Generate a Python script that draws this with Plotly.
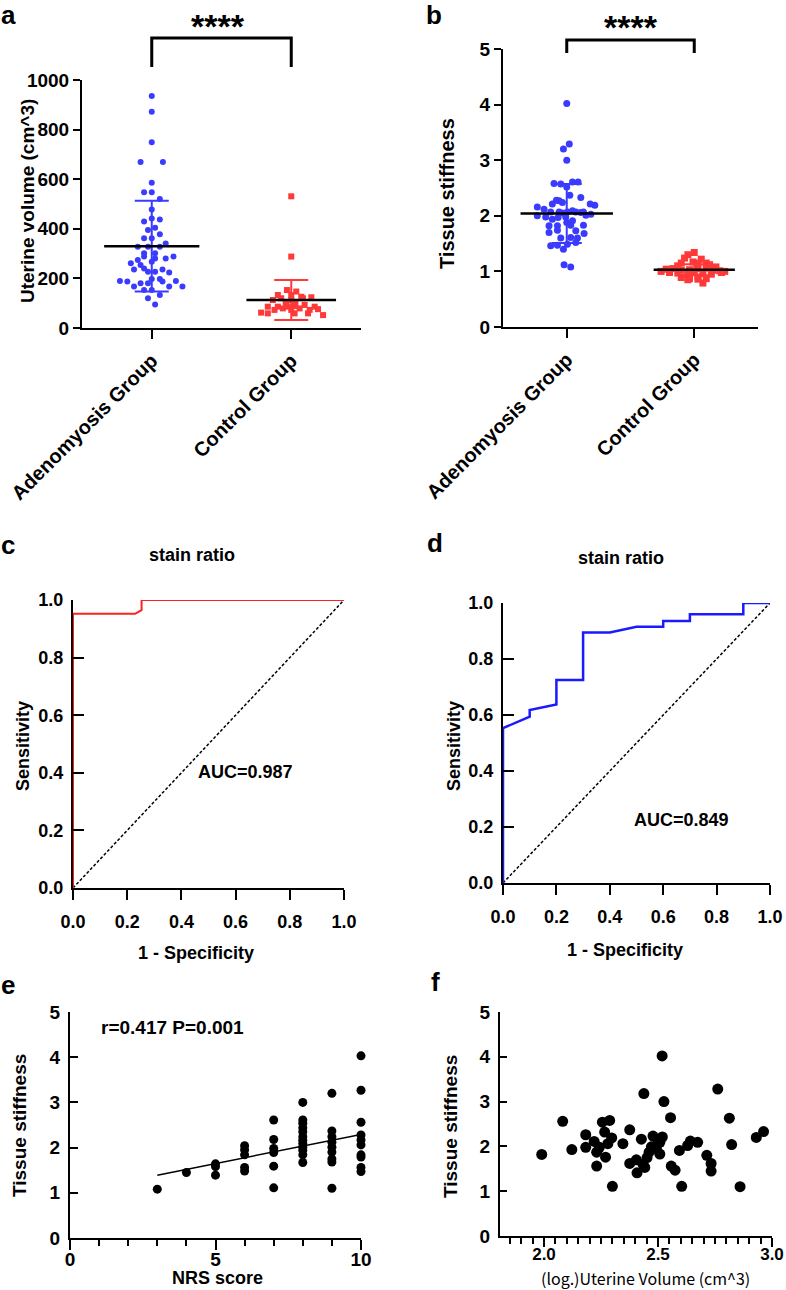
import plotly.graph_objects as go

W, H = 786, 1290

# ---------------- data ----------------
groups = ["Adenomyosis Group", "Control Group"]

vol_adeno = [935, 872, 749, 669, 669, 586, 547, 547, 520, 478, 429, 442, 438, 395, 404, 378,
             362, 362, 328, 328, 328, 341, 301, 301, 274, 288, 280, 280, 288, 261, 254, 267,
             236, 240, 236, 227, 227, 224, 198, 198, 190, 187, 180, 180, 187, 190, 167, 167,
             167, 153, 153, 133, 120, 95]
vol_adeno_jit = [0, 0, 0, -0.08, 0.08, 0, -0.055, 0, 0.058, 0, -0.055, 0, 0.058, -0.027, 0.024, 0.058,
                 -0.055, 0, -0.10, -0.027, 0.058, 0.10, -0.055, 0.024, -0.10, -0.055, 0.024, 0.10, 0.156, -0.15, -0.08, 0,
                 -0.127, -0.055, 0.077, -0.027, 0.024, 0.125, 0, 0.058, -0.228, -0.175, -0.08, -0.027, 0.077, 0.173, -0.127, 0.22,
                 0.125, -0.055, 0, 0.058, -0.027, 0.024]
vol_ctrl = [531, 288, 153, 147, 133, 133, 126, 113, 120, 113, 120, 124, 86, 86, 93, 89, 93, 86,
            73, 79, 73, 79, 73, 76, 62, 59, 59, 59, 52, 86, 100, 105]
vol_ctrl_jit = [0, 0, -0.031, 0.036, -0.096, 0, 0.072, -0.132, -0.072, 0, 0.084, 0.144, -0.168, -0.096, -0.036, 0.024, 0.096, 0.168,
                -0.12, -0.06, 0, 0.06, 0.132, 0.192, -0.216, -0.168, 0.024, 0.12, 0.228, -0.024, 0.03, -0.04]
vol_mean = [330, 113]
vol_sd = [183, 81]

stiff_adeno = [4.02, 3.29, 3.20, 3.00, 2.58, 2.57, 2.52, 2.61, 2.61, 2.37, 2.33, 2.28, 2.24, 2.21, 2.27,
               2.16, 2.12, 2.21, 2.19, 2.07, 2.07, 2.07, 2.07, 2.07, 2.09, 2.05, 2.06, 2.00, 1.98, 1.97,
               1.98, 2.01, 2.03, 1.88, 1.91, 1.94, 1.82, 1.82, 1.83, 1.83, 1.70, 1.74, 1.73, 1.68, 1.61,
               1.60, 1.60, 1.47, 1.49, 1.52, 1.46, 1.40, 1.12, 1.08]
stiff_adeno_jit = [0, 0.02, -0.026, 0, -0.1, -0.047, 0, 0.045, 0.089, 0.024, 0.11, -0.081, -0.034, -0.113, -0.06,
                   -0.231, -0.178, 0.184, 0.22, -0.126, -0.06, 0.005, 0.071, 0.131, 0.045, -0.034, 0.11, -0.231, -0.165, -0.068,
                   -0.008, 0.15, 0.189, 0.0, 0.045, -0.113, -0.139, -0.073, 0.031, 0.131, -0.139, -0.073, 0.071, 0.136, 0.031,
                   -0.047, 0.084, -0.073, 0.005, 0.071, -0.126, -0.026, -0.021, 0.031]
stiff_ctrl = [1.34, 1.30, 1.22, 1.24, 1.17, 1.15, 1.15, 1.15, 1.04, 1.05, 1.02, 1.03, 1.05, 1.06, 1.02,
              1.01, 1.00, 0.98, 0.97, 0.96, 0.98, 0.96, 0.95, 0.98, 0.89, 0.87, 0.90, 0.87, 0.85, 0.86,
              0.79, 1.10, 1.08, 1.12, 1.00]
stiff_ctrl_jit = [0, -0.05, 0.055, -0.076, -0.01, 0.029, -0.102, 0.094, -0.22, -0.168, -0.102, -0.037, 0.029, 0.094, 0.147,
                  0.2, 0.239, -0.194, -0.129, -0.05, 0.0, 0.068, 0.134, 0.213, -0.102, -0.037, 0.029, 0.094, -0.05, 0.029,
                  0.068, -0.13, 0.17, 0.12, -0.26]
stiff_mean = [2.04, 1.03]
stiff_sd = [0.53, 0.10]

roc_c_fpr = [0, 0, 0.229, 0.253, 0.253, 1.0]
roc_c_tpr = [0, 0.952, 0.952, 0.965, 1.0, 1.0]
auc_c = 0.987

roc_d_fpr = [0, 0, 0.1, 0.1, 0.2, 0.2, 0.3, 0.3, 0.4, 0.5, 0.6, 0.6, 0.7, 0.7, 0.9, 0.9, 1.0]
roc_d_tpr = [0, 0.553, 0.594, 0.618, 0.638, 0.725, 0.725, 0.895, 0.895, 0.915, 0.915, 0.936, 0.936, 0.96, 0.96, 1.0, 1.0]
auc_d = 0.849

nrs = [3, 4, 5, 5, 5, 6, 6, 6, 6, 6, 7, 7, 7, 7, 7, 7,
       8, 8, 8, 8, 8, 8, 8, 8, 8, 8, 8, 8, 9, 9, 9, 9, 9, 9, 9, 9, 9,
       10, 10, 10, 10, 10, 10, 10, 10, 10, 10]
nrs_stiff = [1.08, 1.45, 1.64, 1.58, 1.39, 2.04, 1.95, 1.84, 1.56, 1.48, 2.61, 2.18, 1.98, 1.89, 1.59, 1.11,
             3.0, 2.61, 2.54, 2.44, 2.35, 2.24, 2.16, 2.09, 2.01, 1.94, 1.84, 1.67, 3.20, 2.37, 2.24, 2.12, 2.01, 1.90, 1.75, 1.68, 1.10,
             4.03, 3.27, 2.56, 2.28, 2.17, 2.06, 1.84, 1.79, 1.56, 1.47]
fit_x = [3, 10]
fit_y = [1.39, 2.29]
r_val, p_val = 0.417, 0.001

logvol = [1.99, 2.082, 2.122, 2.183, 2.183, 2.22, 2.231, 2.231, 2.256, 2.266, 2.27, 2.288, 2.28, 2.297, 2.30,
          2.243, 2.346, 2.376, 2.376, 2.405, 2.408, 2.427, 2.438, 2.434, 2.442, 2.452, 2.461, 2.471, 2.478, 2.493,
          2.50, 2.508, 2.518, 2.519, 2.526, 2.508, 2.555, 2.558, 2.575, 2.594, 2.604, 2.63, 2.642, 2.674, 2.714,
          2.733, 2.733, 2.762, 2.813, 2.823, 2.86, 2.931, 2.963]
logvol_stiff = [1.82, 2.56, 1.93, 2.26, 1.98, 2.11, 1.56, 1.87, 2.54, 2.32, 1.76, 2.58, 2.06, 2.19, 1.11,
                1.98, 2.06, 2.37, 1.62, 1.70, 1.41, 2.16, 3.18, 1.60, 1.53, 1.75, 1.87, 1.99, 2.23, 1.95,
                2.15, 1.83, 4.02, 2.21, 3.00, 2.09, 2.64, 1.56, 1.47, 1.91, 1.11, 2.02, 2.12, 2.09, 1.80,
                1.62, 1.45, 3.28, 2.63, 2.04, 1.10, 2.20, 2.33]

# ---------------- style ----------------
BLUE = "#3B3BFF"
RED = "#FF3838"
FONT = "Liberation Sans, Arial, sans-serif"


def xd(p0, p1):
    return [p0 / W, p1 / W]


def yd(top, bottom):
    return [1 - bottom / H, 1 - top / H]


def px(x):
    return x / W


def py(y):
    return 1 - y / H


tickfont = dict(family=FONT, size=18, color="black", weight="bold")
bigtick = dict(family=FONT, size=19, color="black", weight="bold")
catfont = dict(family=FONT, size=20, color="black", weight="bold")


def axis(domain, anchor, **kw):
    d = dict(domain=domain, anchor=anchor, showline=True, linecolor="black", linewidth=2,
             showgrid=False, zeroline=False, ticks="outside", tickcolor="black", tickwidth=2,
             ticklen=7, tickfont=tickfont, fixedrange=True, automargin=False)
    d.update(kw)
    return d


fig = go.Figure()

# ---- panel a ----
fig.add_trace(go.Scatter(x=[0 + j for j in vol_adeno_jit], y=vol_adeno, mode="markers",
                         marker=dict(symbol="circle", size=6, color=BLUE), xaxis="x", yaxis="y", cliponaxis=False))
fig.add_trace(go.Scatter(x=[1 + j for j in vol_ctrl_jit], y=vol_ctrl, mode="markers",
                         marker=dict(symbol="square", size=6, color=RED), xaxis="x", yaxis="y", cliponaxis=False))
for g, col, sz in [(0, BLUE, 68), (1, RED, 64)]:
    fig.add_trace(go.Scatter(x=[g], y=[vol_mean[g]], mode="markers",
                             marker=dict(symbol="line-ew", size=sz, color="black", line=dict(color="black", width=2.5)),
                             error_y=dict(type="data", array=[vol_sd[g]], color=col, thickness=2, width=17),
                             xaxis="x", yaxis="y"))

# ---- panel b ----
fig.add_trace(go.Scatter(x=[0 + j for j in stiff_adeno_jit], y=stiff_adeno, mode="markers",
                         marker=dict(symbol="circle", size=7, color=BLUE), xaxis="x2", yaxis="y2", cliponaxis=False))
fig.add_trace(go.Scatter(x=[1 + j for j in stiff_ctrl_jit], y=stiff_ctrl, mode="markers",
                         marker=dict(symbol="square", size=7, color=RED), xaxis="x2", yaxis="y2", cliponaxis=False))
for g, col, sz in [(0, BLUE, 66), (1, RED, 58)]:
    fig.add_trace(go.Scatter(x=[g], y=[stiff_mean[g]], mode="markers",
                             marker=dict(symbol="line-ew", size=sz, color="black", line=dict(color="black", width=2.5)),
                             error_y=dict(type="data", array=[stiff_sd[g]], color=col, thickness=2, width=15),
                             xaxis="x2", yaxis="y2"))

# ---- panel c ----
fig.add_trace(go.Scatter(x=[0, 1], y=[0, 1], mode="lines", line=dict(color="black", width=1.5, dash="3px,2px"),
                         xaxis="x3", yaxis="y3"))
fig.add_trace(go.Scatter(x=roc_c_fpr, y=roc_c_tpr, mode="lines", line=dict(color="#FF2020", width=2),
                         xaxis="x3", yaxis="y3", cliponaxis=False))

# ---- panel d ----
fig.add_trace(go.Scatter(x=[0, 1], y=[0, 1], mode="lines", line=dict(color="black", width=1.5, dash="3px,2px"),
                         xaxis="x4", yaxis="y4"))
fig.add_trace(go.Scatter(x=roc_d_fpr, y=roc_d_tpr, mode="lines", line=dict(color="#1A1AFF", width=2.5),
                         xaxis="x4", yaxis="y4", cliponaxis=False))

# ---- panel e ----
fig.add_trace(go.Scatter(x=nrs, y=nrs_stiff, mode="markers", marker=dict(color="black", size=9),
                         xaxis="x5", yaxis="y5", cliponaxis=False))
fig.add_trace(go.Scatter(x=fit_x, y=fit_y, mode="lines", line=dict(color="black", width=1.5),
                         xaxis="x5", yaxis="y5"))

# ---- panel f ----
fig.add_trace(go.Scatter(x=logvol, y=logvol_stiff, mode="markers", marker=dict(color="black", size=11),
                         xaxis="x6", yaxis="y6", cliponaxis=False))

cat_kw = dict(range=[-0.5, 1.5], tickvals=[0, 1], ticktext=groups, tickangle=-45, ticklen=9,
              tickfont=catfont, ticklabelstandoff=2)

fig.update_layout(
    width=W, height=H, margin=dict(l=0, r=0, t=0, b=0, autoexpand=False),
    paper_bgcolor="white", plot_bgcolor="white", showlegend=False,
    font=dict(family=FONT, color="black"),
    xaxis=axis(xd(82, 361), "y", **cat_kw),
    yaxis=axis(yd(80, 328), "x", range=[0, 1000], tickvals=[0, 200, 400, 600, 800, 1000], tickfont=bigtick),
    xaxis2=axis(xd(503, 758), "y2", **cat_kw),
    yaxis2=axis(yd(49, 327), "x2", range=[0, 5], dtick=1, tickfont=bigtick),
    xaxis3=axis(xd(73, 344), "y3", range=[0, 1], dtick=0.2, tickformat=".1f", ticklen=10, ticklabelstandoff=6),
    yaxis3=axis(yd(600, 888), "x3", range=[0, 1], dtick=0.2, tickformat=".1f", ticks="inside", ticklen=11,
                ticklabelstandoff=4),
    xaxis4=axis(xd(503, 770), "y4", range=[0, 1], dtick=0.2, tickformat=".1f", ticklen=10, ticklabelstandoff=6),
    yaxis4=axis(yd(603, 883), "x4", range=[0, 1], dtick=0.2, tickformat=".1f", ticks="inside", ticklen=11,
                ticklabelstandoff=4),
    xaxis5=axis(xd(70, 361), "y5", range=[0, 10], tickvals=[0, 5, 10], ticklen=10, tickfont=bigtick,
                ticklabelstandoff=-7,
                minor=dict(dtick=1, tick0=0, ticklen=6, tickwidth=2, tickcolor="black", ticks="outside")),
    yaxis5=axis(yd(1012, 1238), "x5", range=[0, 5], dtick=1, ticks="inside", ticklen=8, ticklabelstandoff=4,
                tickfont=bigtick),
    xaxis6=axis(xd(500, 772), "y6", range=[1.807, 3.0], tick0=0, dtick=0.5, tickformat=".1f", ticklen=9,
                ticklabelstandoff=-7,
                tickfont=dict(family=FONT, size=17, color="black", weight="bold"),
                minor=dict(dtick=0.05, tick0=0, ticklen=6, tickwidth=2, tickcolor="black", ticks="outside")),
    yaxis6=axis(yd(1012, 1236), "x6", range=[0, 5], dtick=1, ticks="inside", ticklen=7, ticklabelstandoff=4,
                tickfont=bigtick),
)

# brackets
for xa, ytop, ybot in [("x", 38, 67), ("x2", 40, 53)]:
    fig.add_shape(type="path", xref=xa, yref="paper",
                  path=f"M 0,{py(ybot)} L 0,{py(ytop)} L 1,{py(ytop)} L 1,{py(ybot)}",
                  line=dict(color="black", width=3))


def ann(x, y, text, size=18, weight="bold", angle=0, family=FONT):
    fig.add_annotation(x=px(x), y=py(y), xref="paper", yref="paper", text=text, showarrow=False,
                       xanchor="center", yanchor="middle", textangle=angle,
                       font=dict(family=family, size=size, color="black", weight=weight))


# significance stars
ann(218, 26, "****", size=34)
ann(631, 27, "****", size=34)

# panel letters
ann(8, 15, "a", size=26)
ann(434, 15, "b", size=26)
ann(8, 545, "c", size=26)
ann(435, 543, "d", size=26)
ann(8, 985, "e", size=26)
ann(435, 982, "f", size=26)

# axis titles
ann(27, 201, "Uterine volume (cm^3)", size=19, angle=-90)
ann(447, 194, "Tissue stiffness", size=20, angle=-90)
ann(23, 746, "Sensitivity", angle=-90)
ann(454, 746, "Sensitivity", angle=-90)
ann(19, 1126, "Tissue stiffness", size=19, angle=-90)
ann(450, 1126, "Tissue stiffness", size=19, angle=-90)
ann(196, 953, "1 - Specificity")
ann(625, 950, "1 - Specificity")
ann(217, 1278, "NRS score", size=18)
ann(645, 1278, "(log.)Uterine Volume (cm^3)", size=16, weight="normal", family="Noto Sans CJK JP")

# titles and stats
ann(192, 555, "stain ratio")
ann(621, 558, "stain ratio")
ann(245, 772, f"AUC={auc_c}")
ann(681, 820, f"AUC={auc_d}")
ann(172, 1027, f"r={r_val} P={p_val:.3f}", size=19)

fig.write_html("out.html", config={"displayModeBar": False},
               post_script="document.body.style.margin='0';document.body.style.padding='0';"
                           "document.documentElement.style.overflow='hidden';")
